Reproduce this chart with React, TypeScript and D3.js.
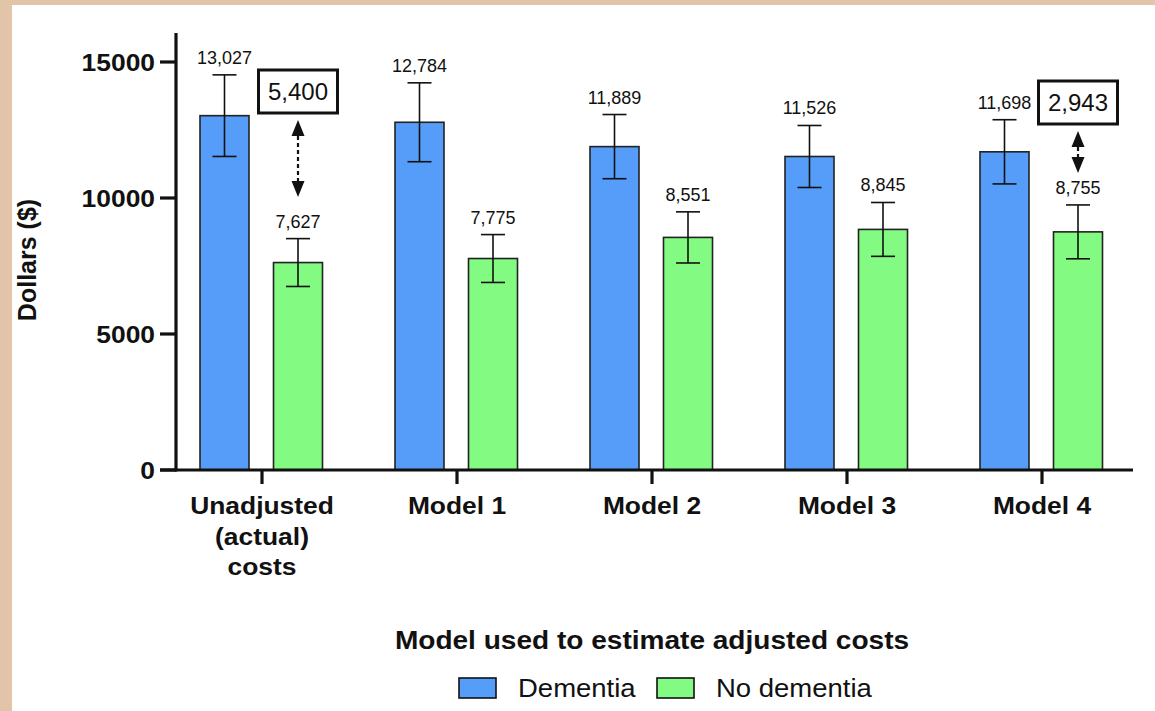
import React from "react";
import * as d3 from "d3";

const categories = ["Unadjusted\n(actual)\ncosts", "Model 1", "Model 2", "Model 3", "Model 4"];
const seriesNames = ["Dementia", "No dementia"];
const dementiaValues = [13027, 12784, 11889, 11526, 11698];
const noDementiaValues = [7627, 7775, 8551, 8845, 8755];
const dementiaErr = [1500, 1450, 1180, 1140, 1180];
const noDementiaErr = [880, 880, 940, 990, 990];
const yTicks = [0, 5000, 10000, 15000];
const diffCategories = ["Unadjusted\n(actual)\ncosts", "Model 4"];
const diffLabels = ["5,400", "2,943"];

const W = 1155;
const H = 711;
const FONT = "'Liberation Sans', Arial, Helvetica, sans-serif";
const BLUE = "#559df8";
const GREEN = "#83fb83";
const SX = 1.1;

function SText(props: {
  x: number;
  y: number;
  anchor?: string;
  size: number;
  bold?: boolean;
  children: React.ReactNode;
}) {
  return (
    <g transform={`translate(${props.x},${props.y}) scale(${SX},1)`}>
      <text
        x={0}
        y={0}
        textAnchor={props.anchor || "start"}
        fontSize={props.size}
        fontWeight={props.bold ? "bold" : "normal"}
        fill="#111"
      >
        {props.children}
      </text>
    </g>
  );
}

export default function App() {
  const y = d3.scaleLinear().domain([0, 16000]).range([470, 34.8]);
  const x0 = d3.scaleBand<string>().domain(categories).range([164.5, 1139.5]);
  const x1 = d3.scaleBand<string>().domain(seriesNames).range([-62, 60.5]).paddingInner(1 / 3);
  const fmt = d3.format(",");
  const bw = x1.bandwidth();

  const series = [
    { name: seriesNames[0], values: dementiaValues, err: dementiaErr, color: BLUE },
    { name: seriesNames[1], values: noDementiaValues, err: noDementiaErr, color: GREEN },
  ];

  // layout for the difference boxes (pixel positions)
  const boxCenterY = [91.5, 102.5];
  const arrowEnds = [
    [120, 197],
    [131, 173],
  ];

  return (
    <svg
      width={W}
      height={H}
      style={{ position: "absolute", left: 0, top: 0, fontFamily: FONT }}
    >
      <rect x={0} y={0} width={W} height={H} fill="#e2c4a8" />
      <rect x={12} y={5} width={W - 12} height={H - 5} fill="#ffffff" />

      {/* bars */}
      {series.map((s) =>
        categories.map((c, i) => {
          const cx = (x0(c) as number) + x0.bandwidth() / 2 + (x1(s.name) as number) + bw / 2;
          const v = s.values[i];
          const top = y(v + s.err[i]);
          const bot = y(v - s.err[i]);
          return (
            <g key={s.name + c}>
              <rect
                x={cx - bw / 2}
                y={y(v)}
                width={bw}
                height={y(0) - y(v)}
                fill={s.color}
                stroke="#222"
                strokeWidth={1.6}
              />
              <line x1={cx} x2={cx} y1={top} y2={bot} stroke="#111" strokeWidth={1.6} />
              <line x1={cx - 12} x2={cx + 12} y1={top} y2={top} stroke="#111" strokeWidth={1.6} />
              <line x1={cx - 12} x2={cx + 12} y1={bot} y2={bot} stroke="#111" strokeWidth={1.6} />
              <text x={cx} y={top - 11} textAnchor="middle" fontSize={18} fill="#111">
                {fmt(v)}
              </text>
            </g>
          );
        })
      )}

      {/* difference annotations */}
      {diffCategories.map((c, k) => {
        const cx = (x0(c) as number) + x0.bandwidth() / 2 + (x1(seriesNames[1]) as number) + bw / 2;
        const cy = boxCenterY[k];
        const [a1, a2] = arrowEnds[k];
        const ah = 16;
        const hw = 6.5;
        return (
          <g key={"diff" + c}>
            <rect x={cx - 39.5} y={cy - 21.5} width={79} height={43} fill="#fff" stroke="#111" strokeWidth={3} />
            <text x={cx} y={cy + 8.5} textAnchor="middle" fontSize={24} fill="#111">
              {diffLabels[k]}
            </text>
            <line x1={cx} x2={cx} y1={a1 + ah} y2={a2 - ah} stroke="#111" strokeWidth={2.2} strokeDasharray="4,3" />
            <path d={`M${cx},${a1} L${cx - hw},${a1 + ah} L${cx + hw},${a1 + ah} Z`} fill="#111" />
            <path d={`M${cx},${a2} L${cx - hw},${a2 - ah} L${cx + hw},${a2 - ah} Z`} fill="#111" />
          </g>
        );
      })}

      {/* y axis */}
      <line x1={176} x2={176} y1={33} y2={471.5} stroke="#111" strokeWidth={3.2} />
      {yTicks.map((t) => (
        <g key={"yt" + t}>
          <line x1={160} x2={176} y1={y(t)} y2={y(t)} stroke="#111" strokeWidth={3.2} />
          <SText x={155} y={y(t) + 9} anchor="end" size={24} bold>
            {t}
          </SText>
        </g>
      ))}

      {/* x axis */}
      <line x1={160} x2={1133} y1={470} y2={470} stroke="#111" strokeWidth={3.2} />
      {categories.map((c) => {
        const cx = (x0(c) as number) + x0.bandwidth() / 2;
        const lines = c.split("\n");
        return (
          <g key={"xt" + c}>
            <line x1={cx} x2={cx} y1={470} y2={484} stroke="#111" strokeWidth={3.2} />
            {lines.map((l, j) => (
              <SText key={j} x={cx} y={514 + j * 30.5} anchor="middle" size={24} bold>
                {l}
              </SText>
            ))}
          </g>
        );
      })}

      {/* axis titles */}
      <text
        transform={`translate(36,260) rotate(-90)`}
        textAnchor="middle"
        fontSize={25}
        fontWeight="bold"
        fill="#111"
      >
        Dollars ($)
      </text>
      <SText x={652} y={649} anchor="middle" size={25.5} bold>
        Model used to estimate adjusted costs
      </SText>

      {/* legend */}
      {series.map((s, k) => {
        const lx = [459, 657][k];
        return (
          <g key={"lg" + s.name}>
            <rect x={lx} y={678} width={37} height={20} fill={s.color} stroke="#111" strokeWidth={1.6} />
            <SText x={lx + 59} y={697} size={25}>
              {s.name}
            </SText>
          </g>
        );
      })}
    </svg>
  );
}
